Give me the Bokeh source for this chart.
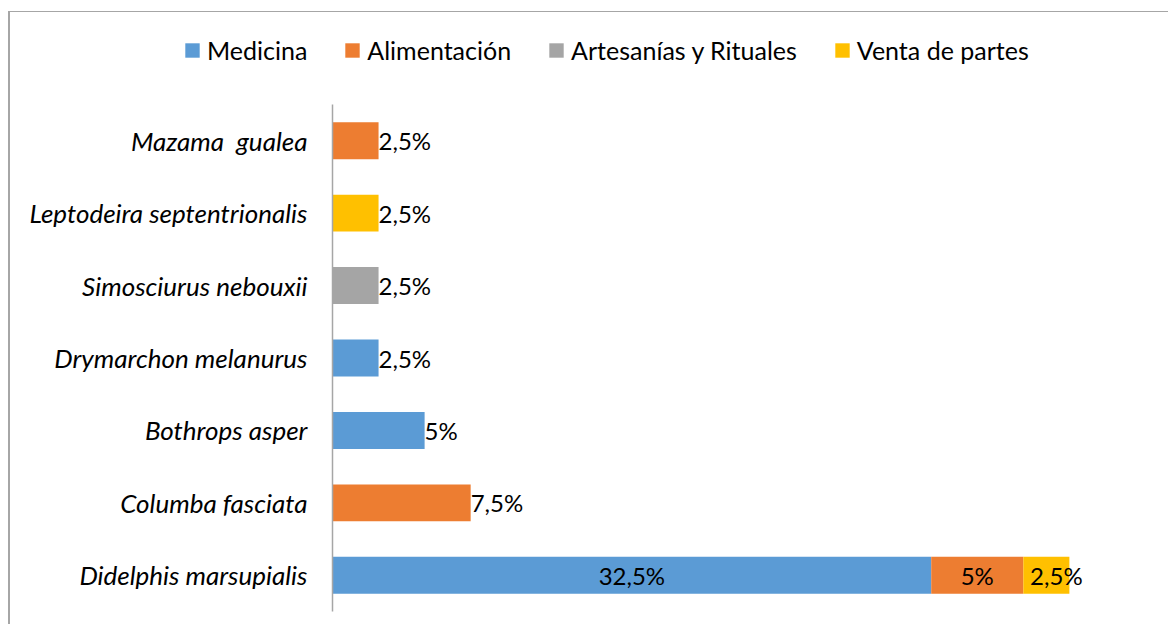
from bokeh.plotting import figure
from bokeh.layouts import column
from bokeh.models import FactorRange, Range1d, Legend, LegendItem, ColumnDataSource
from bokeh.embed import file_html
from bokeh.resources import INLINE
from bokeh.core.properties import value

# ---- data ----
species = ["Didelphis marsupialis", "Columba fasciata", "Bothrops asper",
           "Drymarchon melanurus", "Simosciurus nebouxii",
           "Leptodeira septentrionalis", "Mazama\u00a0 gualea"]
series = ["Medicina", "Alimentación", "Artesanías y Rituales", "Venta de partes"]
medicina = [32.5, 0, 5, 2.5, 0, 0, 0]
alimentacion = [5, 7.5, 0, 0, 0, 0, 2.5]
artesanias = [0, 0, 0, 0, 2.5, 0, 0]
venta = [2.5, 0, 0, 0, 0, 2.5, 0]
colors = ["#5B9BD5", "#ED7D31", "#A5A5A5", "#FFC000"]

FONT = "Lato"

src = ColumnDataSource(dict(species=species, Medicina=medicina,
                            **{"Alimentación": alimentacion,
                               "Artesanías y Rituales": artesanias,
                               "Venta de partes": venta}))

# ---- main chart ----
p = figure(width=1158, height=520, y_range=FactorRange(*species),
           x_range=Range1d(0, 45), output_backend="svg", toolbar_location=None,
           min_border_left=322, min_border_top=0, min_border_bottom=13,
           min_border_right=7)
p.frame_align = False

rs = p.hbar_stack(series, y="species", height=0.51, color=colors, source=src,
                  line_color=None)

# data labels
cols = [medicina, alimentacion, artesanias, venta]
lx, ly, lt, la, lo = [], [], [], [], []
for i, sp in enumerate(species):
    vals = [c[i] for c in cols]
    nz = [j for j, v in enumerate(vals) if v > 0]
    cum = 0
    for j, v in enumerate(vals):
        if v > 0:
            txt = (("%g" % v).replace(".", ",")) + "%"
            if len(nz) > 1:
                lx.append(cum + v / 2)
                la.append("center")
                lo.append(10 if j == nz[-1] else 0)
            else:
                lx.append(cum + v)
                la.append("left")
                lo.append(0)
            ly.append(sp)
            lt.append(txt)
        cum += v
lsrc = ColumnDataSource(dict(x=lx, y=ly, t=lt, a=la, o=lo))
p.text(x="x", y="y", text="t", source=lsrc, text_align="a", x_offset="o",
       text_baseline="middle", text_font=value(FONT), text_font_size="24px",
       text_color="#000000")

p.xaxis.visible = False
p.xgrid.visible = False
p.ygrid.visible = False
p.outline_line_color = None
ax = p.yaxis[0]
ax.major_tick_line_color = None
ax.minor_tick_line_color = None
ax.axis_line_color = "#a6a6a6"
ax.axis_line_width = 1.5
ax.major_label_text_font = FONT
ax.major_label_text_font_style = "italic"
ax.major_label_text_font_size = "26px"
ax.major_label_text_color = "#000000"
ax.major_label_standoff = 19

# ---- legend strip (same series, drawn out of view so only the legend shows) ----
leg = figure(width=1158, height=92, x_range=Range1d(-2, -1),
             y_range=FactorRange(*species),
             output_backend="svg", toolbar_location=None, min_border=0)
leg.frame_align = False
leg.axis.visible = False
leg.grid.visible = False
leg.outline_line_color = None
lrs = leg.hbar_stack(series, y="species", height=0.51, color=colors, source=src,
                     line_color=None)
legend = Legend(items=[LegendItem(label=s, renderers=[r]) for s, r in zip(series, lrs)],
                orientation="horizontal", location=(173, 39),
                label_text_font=FONT, label_text_font_size="25px",
                label_text_color="#000000", glyph_width=18, glyph_height=18,
                label_standoff=6, spacing=36, padding=0, margin=0,
                border_line_color=None, background_fill_alpha=0)
leg.add_layout(legend, "center")

layout = column(leg, p, spacing=0)
layout.margin = (11, 0, 0, 8)
layout.styles = {"border-top": "1px solid #a6a6a6", "border-left": "2px solid #a6a6a6"}

open("out.html", "w").write(file_html(layout, INLINE))
